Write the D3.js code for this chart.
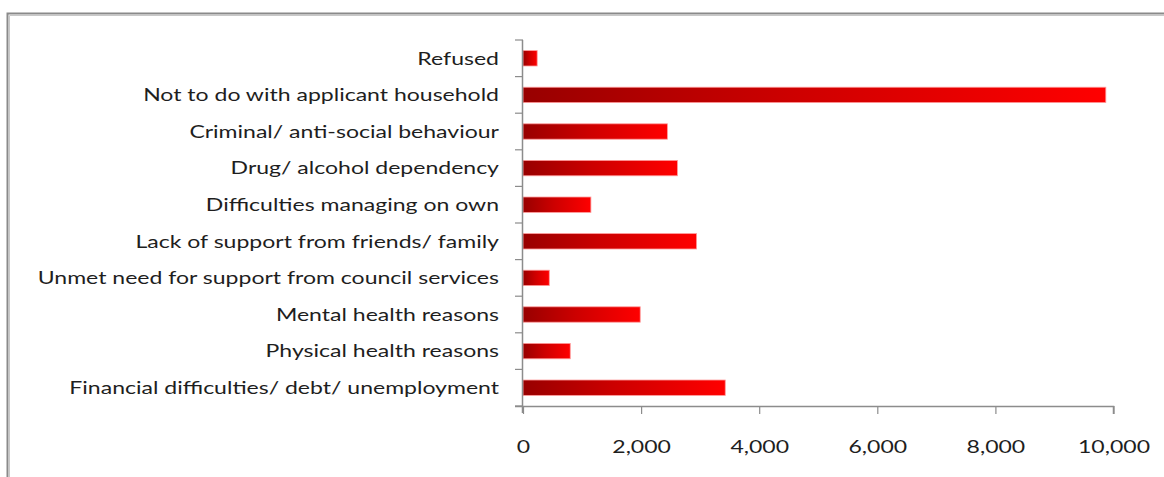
<!DOCTYPE html>
<html>
<head>
<meta charset="utf-8">
<script src="https://cdn.jsdelivr.net/npm/d3@7"></script>
<style>
  html, body { margin: 0; padding: 0; background: #fff; }
  svg { display: block; }
</style>
</head>
<body>
<script>
const categories = [
  "Refused",
  "Not to do with applicant household",
  "Criminal/ anti-social behaviour",
  "Drug/ alcohol dependency",
  "Difficulties managing on own",
  "Lack of support from friends/ family",
  "Unmet need for support from council services",
  "Mental health reasons",
  "Physical health reasons",
  "Financial difficulties/ debt/ unemployment"
];
const values = [240, 9870, 2445, 2615, 1150, 2940, 445, 1985, 800, 3425];
const tickValues = [0, 2000, 4000, 6000, 8000, 10000];

const W = 1164, H = 477;
const svg = d3.select("body").append("svg").attr("width", W).attr("height", H);

// frame
svg.append("rect").attr("x", 7.5).attr("y", 13.5).attr("width", 1300).attr("height", 600)
  .attr("fill", "none").attr("stroke", "#8a8a8a").attr("stroke-width", 2);
svg.append("path").attr("d", "M9.5,600 V15.5 H1300").attr("fill", "none")
  .attr("stroke", "#c8c8c8").attr("stroke-width", 1);

const x0 = 523, x1 = 1113.5, yTop = 40, yBot = 406;
const x = d3.scaleLinear().domain([0, 10000]).range([x0, x1]);
const y = d3.scaleBand().domain(categories).range([yTop, yBot]).paddingInner(0.58).paddingOuter(0.29);
const yTicks = d3.scaleBand().domain(categories).range([yTop, yBot]);

const defs = svg.append("defs");
const grad = defs.append("linearGradient").attr("id", "barGrad")
  .attr("x1", "0%").attr("x2", "100%").attr("y1", "0%").attr("y2", "0%");
grad.append("stop").attr("offset", "0%").attr("stop-color", "#980000");
grad.append("stop").attr("offset", "45%").attr("stop-color", "#cc0000");
grad.append("stop").attr("offset", "100%").attr("stop-color", "#ff0000");

// bars
svg.append("g").selectAll("rect").data(categories).join("rect")
  .attr("x", x(0))
  .attr("y", d => y(d))
  .attr("width", (d, i) => x(values[i]) - x(0))
  .attr("height", y.bandwidth())
  .attr("fill", "url(#barGrad)")
  .attr("stroke", "#ff9a9a").attr("stroke-width", 0.8);

// y axis line and ticks
const axisColor = "#8c8c8c";
svg.append("line").attr("x1", x0 - 0.5).attr("x2", x0 - 0.5).attr("y1", yTop).attr("y2", yBot + 7)
  .attr("stroke", axisColor).attr("stroke-width", 1.5);
const yTickPos = categories.map(c => yTicks(c)).concat([yBot]);
svg.append("g").selectAll("line").data(yTickPos).join("line")
  .attr("x1", x0 - 8).attr("x2", x0).attr("y1", d => d).attr("y2", d => d)
  .attr("stroke", axisColor).attr("stroke-width", 1.2);

const FONT = "Lato, 'Open Sans', sans-serif";
const FS = 18;
const SX = 1.28; // horizontal stretch of the original rendering

// x axis
const xAxis = d3.axisBottom(x).tickValues(tickValues).tickSize(8).tickFormat(d3.format(","));
const gx = svg.append("g").attr("transform", `translate(0,${yBot})`).call(xAxis);
gx.select(".domain").attr("stroke", axisColor).attr("stroke-width", 1.5).attr("d", `M${x0 - 8},0.5H${x1}V8`);
gx.selectAll(".tick line").attr("stroke", axisColor).attr("stroke-width", 1.2);
gx.selectAll(".tick text")
  .attr("y", 0).attr("dy", "0.35em")
  .attr("transform", `translate(0,41) scale(${SX},1)`)
  .attr("font-family", FONT).attr("font-size", FS).attr("fill", "#1e1e1e");

// category labels
svg.append("g").selectAll("text").data(categories).join("text")
  .attr("transform", d => `translate(499,${yTicks(d) + yTicks.bandwidth() / 2}) scale(${SX},1)`)
  .attr("dy", "0.35em")
  .attr("text-anchor", "end")
  .attr("font-family", FONT)
  .attr("font-size", FS)
  .attr("fill", "#1e1e1e")
  .text(d => d);
</script>
</body>
</html>
